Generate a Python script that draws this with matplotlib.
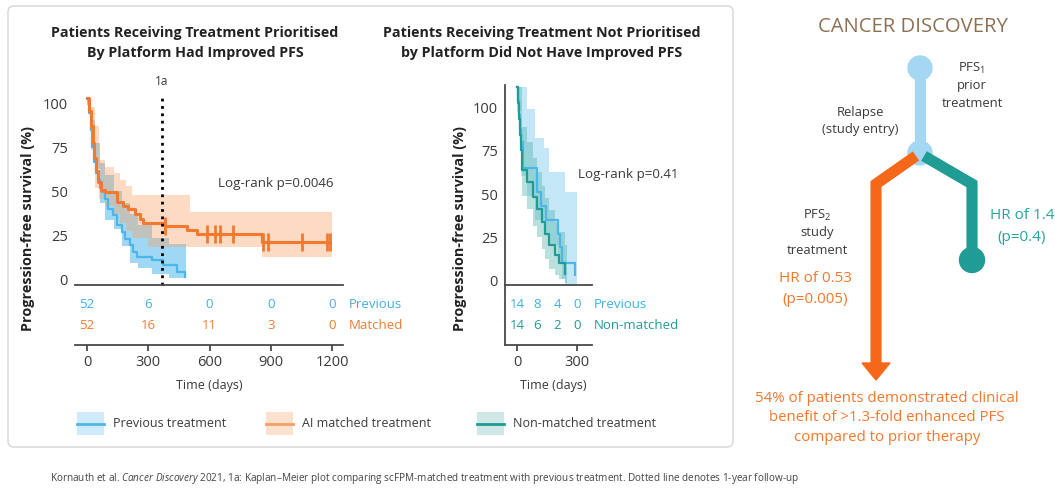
import numpy as np
import matplotlib.pyplot as plt
from matplotlib.patches import FancyBboxPatch, Rectangle, Circle, Polygon

plt.rcParams['font.family'] = ['Open Sans', 'DejaVu Sans']
plt.rcParams['mathtext.fontset'] = 'custom'
plt.rcParams['mathtext.rm'] = 'Open Sans'
plt.rcParams['mathtext.it'] = 'Open Sans:italic'
plt.rcParams['mathtext.bf'] = 'Open Sans:bold'

W, H = 1055, 490

# ---- left panel: previous treatment vs AI matched treatment (days, PFS %) ----
prev_t = [0, 10, 18, 26, 34, 42, 52, 64, 72, 88, 104, 129, 145, 170, 186, 211, 227, 243, 317, 374, 439, 480]
prev_v = [100, 92, 83, 74, 66, 60, 56, 52, 49.7, 46.2, 40.8, 37.3, 31.9, 28.3, 24.8, 21.2, 17.6, 15, 13.2, 10.5, 7, 4.3]
prev_ci_t = [0, 20, 40, 64, 90, 130, 170, 210, 250, 320, 400, 485]
prev_hi = [100, 88, 76, 65, 59, 50, 44, 38, 32, 25, 22, 17]
prev_lo = [96, 80, 62, 44, 35, 30, 21, 12, 9, 6, 3.5, 1]

match_t = [0, 12, 20, 28, 36, 44, 55, 70, 90, 145, 175, 202, 235, 258, 276, 382, 488, 537, 855, 1190]
match_v = [100, 93, 85, 76, 68, 61, 55, 51, 49.5, 44.5, 42.5, 40.8, 38.1, 35.5, 33, 31.7, 29.4, 27.3, 23.2, 23.2]
match_censor = [382, 586, 627, 651, 716, 864, 888, 1051, 1174, 1190]
match_ci_t = [0, 20, 40, 60, 90, 130, 160, 190, 220, 300, 505, 855, 1198]
match_hi = [100, 95, 85, 67, 63, 60, 56, 53, 48, 48, 39.2, 39.2, 39.2]
match_lo = [97, 72, 52, 46, 42, 38, 33, 29, 25, 20.5, 20.5, 15.1, 15.1]

left_risk_days = [0, 300, 600, 900, 1200]
left_risk_prev = [52, 6, 0, 0, 0]
left_risk_match = [52, 16, 11, 3, 0]

# ---- right panel: previous treatment vs non-matched treatment ----
prevR_t = [0, 5, 10, 15, 20, 30, 100, 120, 145, 205, 215, 225, 288]
prevR_v = [100, 93, 86, 79, 72, 59, 47, 40, 33, 26, 19, 11, 5]
prevR_ci_t = [0, 20, 50, 92, 133, 158, 205, 225, 242, 300]
prevR_hi = [100, 100, 89, 74, 69, 57, 57, 57, 47, 47]
prevR_lo = [88, 55, 45, 33, 26, 20, 12, 3, 0, 0]

nonm_t = [0, 5, 10, 15, 20, 25, 50, 78, 100, 125, 138, 158, 192, 208, 242]
nonm_v = [100, 92, 84, 76, 68, 58, 52, 44.5, 38.5, 32, 26, 20, 15, 11, 5.5]
nonm_ci_t = [0, 10, 20, 25, 50, 78, 100, 125, 138, 158, 192, 208, 242, 250]
nonm_hi = [100, 100, 100, 80, 72, 64, 57, 50, 44, 38, 32, 27, 20, 20]
nonm_lo = [92, 76, 58, 45, 38.5, 30, 24, 18, 13, 8, 5, 3, 1, 1]

right_risk_days = [0, 100, 200, 300]
right_risk_prev = [14, 8, 4, 0]
right_risk_nonm = [14, 6, 2, 0]

ytick_labels = [0, 25, 50, 75, 100]

BLUE = '#4db6e8'
ORANGE = '#f27a30'
TEAL = '#1f9c93'
DARK = '#3a3a3a'
SPINE = '#4a4a4a'


def fig_rect(x0, y0, x1, y1):
    return [x0 / W, 1 - y1 / H, (x1 - x0) / W, (y1 - y0) / H]


fig = plt.figure(figsize=(W / 100, H / 100), dpi=100)
fig.patch.set_facecolor('white')

# background / annotation layer in pixel coordinates
bg = fig.add_axes([0, 0, 1, 1], zorder=0)
bg.set_xlim(0, W)
bg.set_ylim(H, 0)
bg.axis('off')
bg.add_patch(FancyBboxPatch((8, 6), 725, 441, boxstyle='round,pad=0,rounding_size=6',
                            fc='white', ec='#d6d6d6', lw=1))


def km_panel(rect_px, risk_px, xlim, ylim, label_scale, label_off, left_spine):
    ax = fig.add_axes(fig_rect(*rect_px), zorder=2)
    axr = fig.add_axes(fig_rect(*risk_px), zorder=2)
    for a in (ax, axr):
        a.set_facecolor('none')
        a.set_xlim(*xlim)
        for s in ('top', 'right'):
            a.spines[s].set_visible(False)
        a.spines['left'].set_visible(left_spine)
        a.spines['left'].set_color(SPINE)
        a.spines['bottom'].set_color(SPINE)
        a.spines['left'].set_linewidth(1.3)
        a.spines['bottom'].set_linewidth(1.3)
    ax.set_ylim(*ylim)
    ax.set_xticks([])
    # the printed labels sit slightly off the curve scale in the source figure
    ax.set_yticks(np.array(ytick_labels) * label_scale + label_off, [str(v) for v in ytick_labels])
    ax.tick_params(axis='y', length=0, pad=5, labelsize=10.5, labelcolor=DARK)
    axr.set_ylim(0, 1)
    axr.set_yticks([])
    axr.tick_params(axis='x', length=4.5, width=1.3, color=SPINE, pad=3, labelsize=10.5, labelcolor=DARK)
    return ax, axr


def step_value(ts, vs, t):
    return vs[np.searchsorted(ts, t, side='right') - 1]


# ---------------- left panel ----------------
axL, axLr = km_panel((75, 90.5, 343, 285), (75, 285, 343, 345), (-58.8, 1253.7), (0, 104),
                     0.936, 3.2, False)
axL.fill_between(prev_ci_t, prev_lo, prev_hi, step='post', color='#5fbfee', alpha=0.6, lw=0)
axL.fill_between(match_ci_t, match_lo, match_hi, step='post', color='#f9a36b', alpha=0.4, lw=0)
axL.step(prev_t, prev_v, where='post', color=BLUE, lw=1.6)
axL.step(match_t, match_v, where='post', color=ORANGE, lw=2.2)
axL.plot(match_censor, [step_value(match_t, match_v, c) for c in match_censor], ls='none',
         marker='|', ms=13, mew=2, color=ORANGE)
axL.plot([365, 365], [0, 101.6], ls=':', lw=2, color='black', clip_on=False)
axL.text(365, 109, '1a', ha='center', va='center', fontsize=8.5, color=DARK, clip_on=False)
axL.text(641, 54.5, 'Log-rank p=0.0046', ha='left', va='center', fontsize=9.6, color=DARK)

axLr.set_xticks(left_risk_days)
for d, a, b in zip(left_risk_days, left_risk_prev, left_risk_match):
    axLr.text(d, 0.667, str(a), ha='center', va='center', fontsize=9.5, color='#3fb0e6')
    axLr.text(d, 0.333, str(b), ha='center', va='center', fontsize=9.5, color=ORANGE)
axLr.annotate('Previous', (1, 0.667), xycoords='axes fraction', xytext=(4, 0),
              textcoords='offset points', va='center', fontsize=9.5, color='#3fb0e6')
axLr.annotate('Matched', (1, 0.333), xycoords='axes fraction', xytext=(4, 0),
              textcoords='offset points', va='center', fontsize=9.5, color=ORANGE)

# ---------------- right panel ----------------
axR, axRr = km_panel((505, 85, 592, 285), (505, 285, 592, 345), (-60, 375), (0, 101),
                     0.869, 2.5, True)
axR.fill_between(prevR_ci_t, prevR_lo, prevR_hi, step='post', color='#9dd8f4', alpha=0.6, lw=0)
axR.fill_between(nonm_ci_t, nonm_lo, nonm_hi, step='post', color='#4fb3aa', alpha=0.4, lw=0)
axR.step(prevR_t, prevR_v, where='post', color=BLUE, lw=1.6)
axR.step(nonm_t, nonm_v, where='post', color=TEAL, lw=1.6)
axR.text(305, 55.6, 'Log-rank p=0.41', ha='left', va='center', fontsize=9.6, color=DARK, clip_on=False)

axRr.set_xticks([0, 300])
for d, a, b in zip(right_risk_days, right_risk_prev, right_risk_nonm):
    axRr.text(d, 0.667, str(a), ha='center', va='center', fontsize=9.5, color='#3fb0e6')
    axRr.text(d, 0.333, str(b), ha='center', va='center', fontsize=9.5, color=TEAL)
axRr.annotate('Previous', (1, 0.667), xycoords='axes fraction', xytext=(1, 0),
              textcoords='offset points', va='center', fontsize=9.5, color='#3fb0e6')
axRr.annotate('Non-matched', (1, 0.333), xycoords='axes fraction', xytext=(1, 0),
              textcoords='offset points', va='center', fontsize=9.5, color=TEAL)

# ---------------- titles and axis labels ----------------
for cx, lines in [(195, ['Patients Receiving Treatment Prioritised', 'By Platform Had Improved PFS']),
                  (542, ['Patients Receiving Treatment Not Prioritised', 'by Platform Did Not Have Improved PFS'])]:
    for i, line in enumerate(lines):
        bg.text(cx, 33 + 20 * i, line, ha='center', va='center', fontsize=10.3,
                fontweight='bold', color='#222222')
for cx in (28, 460):
    bg.text(cx, 228, 'Progression-free survival (%)', rotation=90, ha='center', va='center',
            fontsize=10.4, fontweight='bold', color='#222222')
for cx in (209, 553):
    bg.text(cx, 385, 'Time (days)', ha='center', va='center', fontsize=9, color=DARK)

# ---------------- legend ----------------
legend_items = [('Previous treatment', BLUE, '#cfeafa', 77),
                ('AI matched treatment', '#f5a066', '#fde1cf', 266),
                ('Non-matched treatment', TEAL, '#cfe8e6', 477)]
for name, lc, pc, x0 in legend_items:
    bg.add_patch(Rectangle((x0, 412), 27, 23, fc=pc, ec='none'))
    bg.plot([x0, x0 + 27], [423.5, 423.5], color=lc, lw=2)
    bg.text(x0 + 36, 423.5, name, ha='left', va='center', fontsize=9, color=DARK)

# ---------------- schematic on the right ----------------
bg.text(913, 27, 'CANCER DISCOVERY', ha='center', va='center', fontsize=14.6, color='#8c7052')
LBLUE = '#a4d8f2'
ORG = '#f5681a'
bg.plot([920, 920], [68, 153], color=LBLUE, lw=8, solid_capstyle='butt')
bg.add_patch(Circle((920, 68), 12, color=LBLUE))
bg.plot([916, 876, 876], [156, 184, 364], color=ORG, lw=8, solid_joinstyle='miter',
        solid_capstyle='butt')
bg.add_patch(Polygon([[862, 363], [890, 363], [876, 380]], color=ORG))
bg.plot([924, 972, 972], [156, 184, 258], color=TEAL, lw=8, solid_joinstyle='miter',
        solid_capstyle='butt')
bg.add_patch(Circle((972, 260), 12.5, color=TEAL))
bg.add_patch(Circle((920, 153), 12, color=LBLUE))

for cx, cy, lines in [(972, 68, [r'PFS$_\mathregular{1}$', 'prior', 'treatment']),
                      (860, 112, ['Relapse', '(study entry)']),
                      (817, 215, [r'PFS$_\mathregular{2}$', 'study', 'treatment'])]:
    for i, line in enumerate(lines):
        bg.text(cx, cy + 17.5 * i, line, ha='center', va='center', fontsize=9.4, color=DARK)
bg.text(1022, 215, 'HR of 1.4', ha='center', va='center', fontsize=11, color='#2aa39b')
bg.text(1022, 237, '(p=0.4)', ha='center', va='center', fontsize=11, color='#2aa39b')
bg.text(815, 278, 'HR of 0.53', ha='center', va='center', fontsize=11, color='#f3782c')
bg.text(815, 299, '(p=0.005)', ha='center', va='center', fontsize=11, color='#f3782c')
for i, line in enumerate(['54% of patients demonstrated clinical',
                          'benefit of >1.3-fold enhanced PFS',
                          'compared to prior therapy']):
    bg.text(887, 398 + 19.5 * i, line, ha='center', va='center', fontsize=10.8, color='#f3782c')

bg.text(50, 478, r'Kornauth et al. $\it{Cancer\ Discovery}$ 2021, 1a: Kaplan–Meier plot comparing '
        'scFPM-matched treatment with previous treatment. Dotted line denotes 1-year follow-up',
        ha='left', va='center', fontsize=7.2, color='#444444')

fig.savefig('out.png', dpi=100, facecolor='white')
